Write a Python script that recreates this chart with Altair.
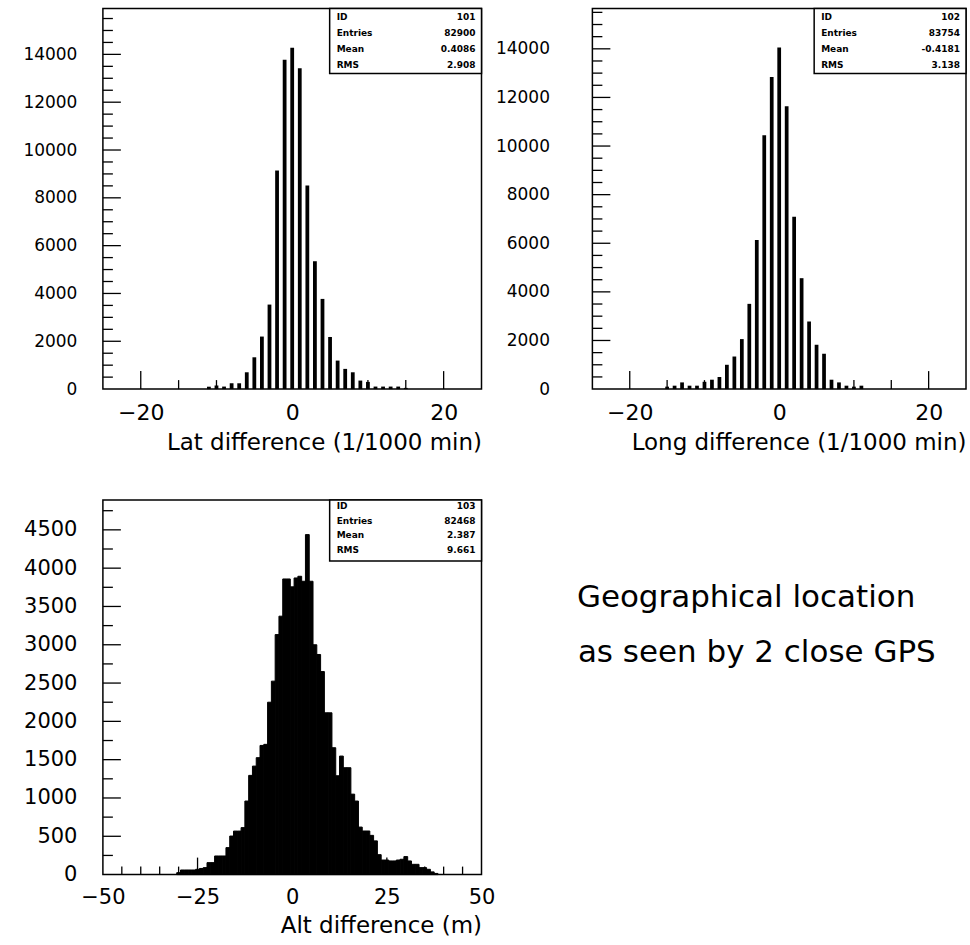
import altair as alt
import pandas as pd
import numpy as np

FONT = "DejaVu Sans"

# ---------------- data ----------------
lat_bins = list(range(-11, 16))
lat_counts = [100, 150, 105, 243, 243, 703, 1330, 2197, 3535, 9142, 13773, 14275, 13423,
              8515, 5348, 3772, 2180, 1192, 845, 703, 356, 300, 105, 105, 105, 105, 50]

long_bins = list(range(-15, 12))
long_counts = [100, 140, 275, 140, 140, 300, 386, 497, 1000, 1340, 2057, 3507, 6136, 10448,
               12843, 14050, 11639, 7093, 4563, 2781, 1824, 1454, 386, 275, 140, 100, 140]

alt_bins = list(range(-30, 39))
alt_counts = [25, 60, 60, 60, 60, 69, 80, 91, 156, 156,
              243, 243, 243, 352, 503, 568, 568, 613, 960, 1295,
              1416, 1526, 1686, 1700, 2250, 2525, 3133, 3373, 3859, 3859,
              3756, 3872, 3894, 3829, 4438, 3829, 3000, 2873, 2650, 2112,
              2112, 1656, 1290, 1547, 1395, 1395, 1050, 960, 620, 569,
              569, 512, 440, 260, 190, 190, 178, 178, 190, 200,
              235, 178, 134, 134, 91, 91, 69, 35, 15]

latlong_xlabels = [-20, 0, 20]
latlong_ylabels = [0, 2000, 4000, 6000, 8000, 10000, 12000, 14000]
alt_xlabels = [-50, -25, 0, 25, 50]
alt_ylabels = [0, 500, 1000, 1500, 2000, 2500, 3000, 3500, 4000, 4500]

latlong_xminor = [-15, -10, -5, 5, 10, 15]
latlong_yminor = [v for v in range(500, 15600, 500) if v % 2000 != 0]
latlong_ymajor = [2000, 4000, 6000, 8000, 10000, 12000, 14000]
alt_xmajor = [-25, 0, 25]
alt_xminor = [v for v in range(-45, 50, 5) if v % 25 != 0]
alt_ymajor = [500, 1000, 1500, 2000, 2500, 3000, 3500, 4000, 4500]
alt_yminor = [v for v in range(250, 4900, 500)]

titles = ["Lat difference (1/1000 min)", "Long difference (1/1000 min)", "Alt difference (m)"]
stat_names = ["ID", "Entries", "Mean", "RMS"]
stat_ids = ["101", "102", "103"]
note_lines = ["Geographical location", "as seen by 2 close GPS"]

one = pd.DataFrame({"a": [0]})


def stats_values(bins, counts, idv):
    b = np.array(bins, float)
    c = np.array(counts, float)
    n = c.sum()
    m = (b * c).sum() / n
    r = np.sqrt((c * (b - m) ** 2).sum() / n)
    return [idv, f"{int(n)}", f"{m:.4g}", f"{r:.4g}"]


def panel(bins, counts, half, xdom, ydom, w, h, xlabels, ylabels,
          xmaj, xmin, ymaj, ymin, xmajlen, xminlen, ymajlen, yminlen,
          xlabsize, ylabsize, xlabpad, ylabpad, title, titley,
          stats, box_h, rows_y, bar_stroke=None, extra=None):
    df = pd.DataFrame({"lo": [b - half for b in bins],
                       "hi": [b + half for b in bins],
                       "n": counts,
                       "z": [0] * len(bins)})
    xs = alt.Scale(domain=xdom, nice=False, zero=False)
    ys = alt.Scale(domain=ydom, nice=False, zero=True)
    xax = alt.Axis(values=xlabels, format="d", labelFontSize=xlabsize,
                   labelPadding=xlabpad, labelFlush=False, labelOverlap=False,
                   title=title, titleX=w, titleY=titley, titleAlign="right",
                   titleAnchor="end", titleBaseline="alphabetic", titleFontSize=23)
    yax = alt.Axis(values=ylabels, format="d", labelFontSize=ylabsize,
                   labelPadding=ylabpad, labelOverlap=False, title=None)
    rect_kw = dict(color="black")
    if bar_stroke:
        rect_kw.update(stroke="black", strokeWidth=bar_stroke)
    bars = alt.Chart(df).mark_rect(**rect_kw).encode(
        x=alt.X("lo:Q", scale=xs, axis=xax, title=title),
        x2="hi:Q",
        y=alt.Y("n:Q", scale=ys, axis=yax, title=None),
        y2="z:Q",
    )
    layers = [bars]
    for vals, ln in ((xmaj, xmajlen), (xmin, xminlen)):
        layers.append(alt.Chart(pd.DataFrame({"lo": vals})).mark_rule(
            color="black", strokeWidth=1.3).encode(
            x=alt.X("lo:Q", scale=xs, axis=xax, title=title),
            y=alt.value(h), y2=alt.value(h - ln)))
    for vals, ln in ((ymaj, ymajlen), (ymin, yminlen)):
        layers.append(alt.Chart(pd.DataFrame({"n": vals})).mark_rule(
            color="black", strokeWidth=1.3).encode(
            y=alt.Y("n:Q", scale=ys, axis=yax, title=None),
            x=alt.value(0), x2=alt.value(ln)))
    # statistics box
    layers.append(alt.Chart(one).mark_rect(fill="white", stroke="black", strokeWidth=1.5).encode(
        x=alt.value(w - 152), x2=alt.value(w), y=alt.value(0), y2=alt.value(box_h)))
    for name, val, ry in zip(stat_names, stats, rows_y):
        layers.append(alt.Chart(one).mark_text(
            text=name, align="left", baseline="middle", font=FONT, fontSize=9,
            fontWeight="bold", color="black").encode(x=alt.value(w - 145), y=alt.value(ry)))
        layers.append(alt.Chart(one).mark_text(
            text=val, align="right", baseline="middle", font=FONT, fontSize=9,
            fontWeight="bold", color="black").encode(x=alt.value(w - 6), y=alt.value(ry)))
    if extra:
        layers += extra
    return alt.layer(*layers).properties(width=w, height=h)


p1 = panel(lat_bins, lat_counts, 0.25, [-25, 25], [0, 15920], 379, 381,
           latlong_xlabels, latlong_ylabels, latlong_xlabels, latlong_xminor,
           latlong_ymajor, latlong_yminor, 18, 9, 18, 10, 22, 17, 13, 26,
           titles[0], 60, stats_values(lat_bins, lat_counts, stat_ids[0]), 65,
           [9, 25, 41, 57])

p2 = panel(long_bins, long_counts, 0.25, [-25, 25], [0, 15660], 374, 381,
           latlong_xlabels, latlong_ylabels, latlong_xlabels, latlong_xminor,
           latlong_ymajor, latlong_yminor, 18, 9, 18, 10, 22, 17, 13, 43,
           titles[1], 60, stats_values(long_bins, long_counts, stat_ids[1]), 65,
           [9, 25, 41, 57])

note = [alt.Chart(one).mark_text(text=note_lines[0], align="left", baseline="alphabetic",
                                 font=FONT, fontSize=31, color="black").encode(
            x=alt.value(474.5), y=alt.value(107)),
        alt.Chart(one).mark_text(text=note_lines[1], align="left", baseline="alphabetic",
                                 font=FONT, fontSize=31, color="black").encode(
            x=alt.value(475.5), y=alt.value(162))]

p3 = panel(alt_bins, alt_counts, 0.5, [-50, 50], [0, 4890], 379, 375,
           alt_xlabels, alt_ylabels, alt_xmajor, alt_xminor,
           alt_ymajor, alt_yminor, 17, 8, 18, 10, 21, 21, 12, 26,
           titles[2], 58, stats_values(alt_bins, alt_counts, stat_ids[2]), 61,
           [6, 21, 35, 50], bar_stroke=1.0, extra=note)

chart = alt.concat(p1, p2, p3, columns=2, spacing=111, bounds="flush").properties(
    padding={"left": 22, "top": 6, "right": 2, "bottom": 5},
    background="white",
).configure_view(
    stroke="black", strokeWidth=1.5
).configure_axis(
    grid=False, domain=False, ticks=False, tickSize=0,
    labelFont=FONT, titleFont=FONT, labelColor="black", titleColor="black",
    titleFontWeight="normal",
)

chart.save("out.html", embed_options={"renderer": "svg", "actions": False})
